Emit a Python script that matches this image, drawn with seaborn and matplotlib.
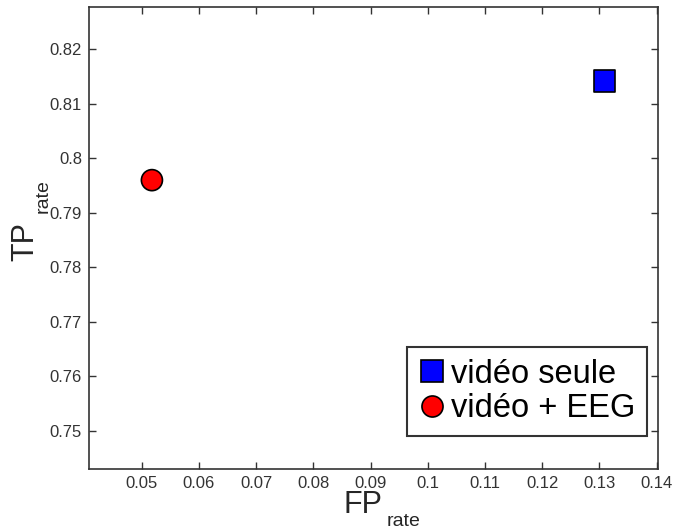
import seaborn as sns
import matplotlib.pyplot as plt
import pandas as pd

# data
methods = ["vidéo seule", "vidéo + EEG"]
fp_rate = [0.1309, 0.0518]
tp_rate = [0.8142, 0.7960]
marker_shapes = {"vidéo seule": "s", "vidéo + EEG": "o"}
marker_colors = {"vidéo seule": "#0000ff", "vidéo + EEG": "#ff0000"}

x_ticks = [0.05, 0.06, 0.07, 0.08, 0.09, 0.1, 0.11, 0.12, 0.13, 0.14]
y_ticks = [0.75, 0.76, 0.77, 0.78, 0.79, 0.8, 0.81, 0.82]

df = pd.DataFrame({"method": methods, "FP": fp_rate, "TP": tp_rate})

sns.set_style("white")
plt.rcParams["font.family"] = ["Liberation Sans", "DejaVu Sans"]

W, H = 674, 531
fig = plt.figure(figsize=(W / 100, H / 100), dpi=100)
ax = fig.add_axes([0.132, 0.117, 0.844, 0.870])

sns.scatterplot(
    data=df,
    x="FP",
    y="TP",
    hue="method",
    style="method",
    markers=marker_shapes,
    palette=marker_colors,
    s=230,
    edgecolor="black",
    linewidth=1.2,
    ax=ax,
    zorder=3,
)

ax.set_xlim(0.0408, 0.1402)
ax.set_ylim(0.7430, 0.8278)
ax.set_xticks(x_ticks)
ax.set_xticklabels([f"{v:g}" for v in x_ticks])
ax.set_yticks(y_ticks)
ax.set_yticklabels([f"{v:g}" for v in y_ticks])

ax.tick_params(direction="in", length=5, width=1, colors="#333333",
               labelcolor="#333333", labelsize=12, pad=5,
               top=True, right=True, bottom=True, left=True)
for spine in ax.spines.values():
    spine.set_visible(True)
    spine.set_color("#333333")
    spine.set_linewidth(1.2)

# axis labels: big letters with a small subscript, placed like the reference
ax.set_xlabel("")
ax.set_ylabel("")
fig.text(344 / W, 1 - 513 / H, "FP", fontsize=22, ha="left", va="baseline")
fig.text(387 / W, 1 - 526 / H, "rate", fontsize=14, ha="left", va="baseline")
fig.text(33 / W, 1 - 261 / H, "TP", fontsize=22, rotation=90,
         rotation_mode="anchor", ha="left", va="baseline")
fig.text(48 / W, 1 - 213 / H, "rate", fontsize=14, rotation=90,
         rotation_mode="anchor", ha="left", va="baseline")

handles, labels = ax.get_legend_handles_labels()
leg = ax.legend(
    handles,
    labels,
    loc="lower right",
    bbox_to_anchor=(0.981, 0.0714),
    fontsize=23.5,
    frameon=True,
    fancybox=False,
    edgecolor="black",
    handletextpad=0.15,
    handlelength=0.85,
    borderpad=0.35,
    labelspacing=0.12,
    borderaxespad=0,
    markerscale=1.0,
)
leg.get_frame().set_linewidth(1.5)
for t in leg.get_texts():
    t.set_color("black")

fig.savefig("out.png", dpi=100)
